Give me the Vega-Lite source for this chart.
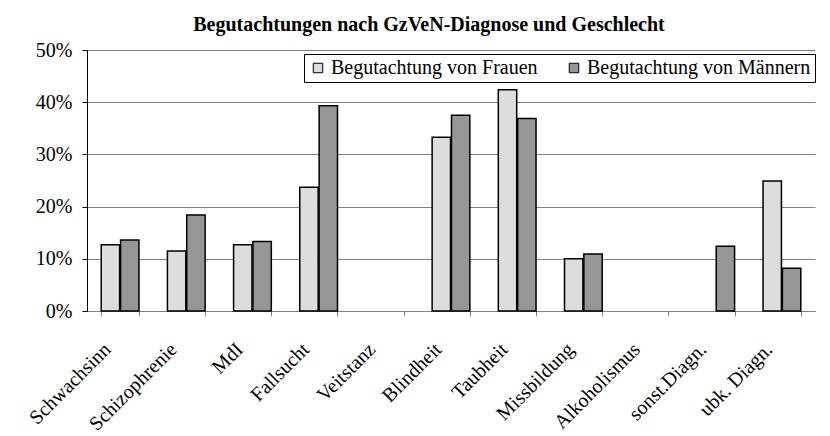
{
  "$schema": "https://vega.github.io/schema/vega-lite/v6.json",
  "autosize": {"type": "none"},
  "padding": {"left": 87, "top": 50, "right": 15, "bottom": 125},
  "width": 728,
  "height": 261,
  "background": "white",
  "title": {
    "text": "Begutachtungen nach GzVeN-Diagnose und Geschlecht",
    "font": "Liberation Serif",
    "fontSize": 20,
    "fontWeight": "bold",
    "color": "black",
    "anchor": "middle",
    "frame": "group",
    "dx": -22,
    "offset": 5
  },
  "data": {
    "values": [
      {"diagnose": "Schwachsinn", "gruppe": "Begutachtung von Frauen", "anteil": 0.127},
      {"diagnose": "Schwachsinn", "gruppe": "Begutachtung von Männern", "anteil": 0.136},
      {"diagnose": "Schizophrenie", "gruppe": "Begutachtung von Frauen", "anteil": 0.115},
      {"diagnose": "Schizophrenie", "gruppe": "Begutachtung von Männern", "anteil": 0.184},
      {"diagnose": "MdI", "gruppe": "Begutachtung von Frauen", "anteil": 0.127},
      {"diagnose": "MdI", "gruppe": "Begutachtung von Männern", "anteil": 0.133},
      {"diagnose": "Fallsucht", "gruppe": "Begutachtung von Frauen", "anteil": 0.237},
      {"diagnose": "Fallsucht", "gruppe": "Begutachtung von Männern", "anteil": 0.393},
      {"diagnose": "Blindheit", "gruppe": "Begutachtung von Frauen", "anteil": 0.333},
      {"diagnose": "Blindheit", "gruppe": "Begutachtung von Männern", "anteil": 0.375},
      {"diagnose": "Taubheit", "gruppe": "Begutachtung von Frauen", "anteil": 0.424},
      {"diagnose": "Taubheit", "gruppe": "Begutachtung von Männern", "anteil": 0.369},
      {"diagnose": "Missbildung", "gruppe": "Begutachtung von Frauen", "anteil": 0.100},
      {"diagnose": "Missbildung", "gruppe": "Begutachtung von Männern", "anteil": 0.109},
      {"diagnose": "sonst.Diagn.", "gruppe": "Begutachtung von Männern", "anteil": 0.124},
      {"diagnose": "ubk. Diagn.", "gruppe": "Begutachtung von Frauen", "anteil": 0.249},
      {"diagnose": "ubk. Diagn.", "gruppe": "Begutachtung von Männern", "anteil": 0.082}
    ]
  },
  "mark": {"type": "bar", "stroke": "black", "strokeWidth": 1.5},
  "encoding": {
    "x": {
      "field": "diagnose",
      "type": "nominal",
      "title": null,
      "scale": {
        "domain": ["Schwachsinn", "Schizophrenie", "MdI", "Fallsucht", "Veitstanz", "Blindheit", "Taubheit", "Missbildung", "Alkoholismus", "sonst.Diagn.", "ubk. Diagn."],
        "paddingInner": 0.43,
        "paddingOuter": 0.215
      },
      "axis": {
        "labelAngle": -45,
        "labelAlign": "right",
        "labelBaseline": "middle",
        "labelFont": "Liberation Serif",
        "labelFontSize": 20,
        "labelColor": "black",
        "labelPadding": 30,
        "labelOffset": -13,
        "labelLimit": 0,
        "tickBand": "extent",
        "tickSize": 5,
        "tickColor": "#808080",
        "domainColor": "#808080",
        "grid": false
      }
    },
    "xOffset": {
      "field": "gruppe",
      "type": "nominal",
      "scale": {
        "domain": ["Begutachtung von Frauen", "Begutachtung von Männern"],
        "paddingInner": 0.05
      }
    },
    "y": {
      "field": "anteil",
      "type": "quantitative",
      "title": null,
      "scale": {"domain": [0, 0.5], "nice": false},
      "axis": {
        "values": [0, 0.1, 0.2, 0.3, 0.4, 0.5],
        "format": ".0%",
        "labelFont": "Liberation Serif",
        "labelFontSize": 20,
        "labelColor": "black",
        "labelPadding": 10,
        "tickSize": 5,
        "tickColor": "black",
        "domainColor": "black",
        "gridColor": "#808080",
        "gridOpacity": 1
      }
    },
    "fill": {
      "field": "gruppe",
      "type": "nominal",
      "scale": {
        "domain": ["Begutachtung von Frauen", "Begutachtung von Männern"],
        "range": ["#dddddd", "#969696"]
      },
      "legend": {
        "title": null,
        "orient": "none",
        "legendX": 217,
        "legendY": 4,
        "direction": "horizontal",
        "columns": 2,
        "columnPadding": 26,
        "strokeColor": "black",
        "fillColor": "white",
        "padding": 4,
        "symbolType": "square",
        "symbolSize": 90,
        "symbolStrokeColor": "black",
        "symbolStrokeWidth": 1,
        "labelFont": "Liberation Serif",
        "labelFontSize": 20,
        "labelColor": "black",
        "labelOffset": 3,
        "labelLimit": 0
      }
    }
  },
  "config": {
    "view": {"stroke": null}
  }
}
